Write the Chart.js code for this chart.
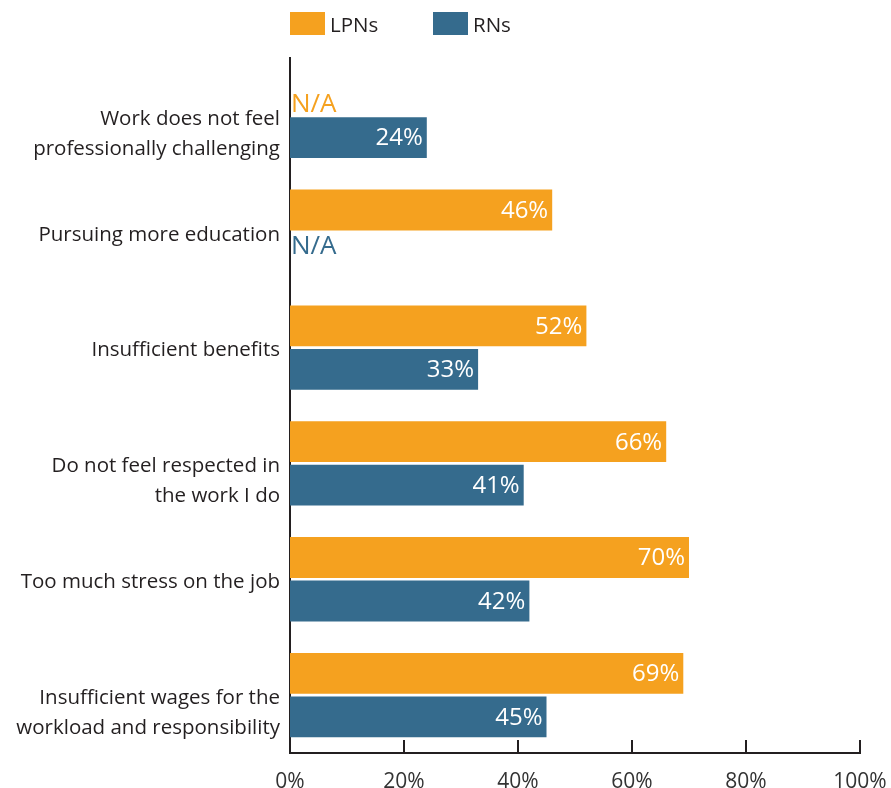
<!DOCTYPE html>
<html>
<head>
<meta charset="utf-8">
<script src="https://cdn.jsdelivr.net/npm/chart.js@4.4.0/dist/chart.umd.min.js"></script>
<style>
  body { margin: 0; background: #fff; }
  #wrap { position: relative; width: 891px; height: 788px; }
  .leg { position: absolute; top: 12px; height: 23px; display: flex; align-items: center;
         font-family: 'Open Sans', sans-serif; font-size: 20.5px; color: #231f20; }
  .leg span.box { display: inline-block; width: 35px; height: 23px; margin-right: 5px; }
</style>
</head>
<body>
<div id="wrap">
  <div class="leg" style="left:290px"><span class="box" style="background:#f5a11f"></span>LPNs</div>
  <div class="leg" style="left:433px"><span class="box" style="background:#356b8d"></span>RNs</div>
  <canvas id="grafico" width="891" height="788"></canvas>
</div>
<script>
// ---- dados ----
const categorias = [
  ['Work does not feel', 'professionally challenging'],
  ['Pursuing more education'],
  ['Insufficient benefits'],
  ['Do not feel respected in', 'the work I do'],
  ['Too much stress on the job'],
  ['Insufficient wages for the', 'workload and responsibility']
];
const lpns = [null, 46, 52, 66, 70, 69];
const rns  = [24, null, 33, 41, 42, 45];
const xTicks = [0, 20, 40, 60, 80, 100];

const corLaranja = '#f5a11f';
const corAzul = '#356b8d';
const corTexto = '#231f20';
const fonte = "'Open Sans', sans-serif";

// rótulos das categorias (primeira linha no centro da faixa)
const rotulosCategorias = {
  id: 'rotulosCategorias',
  afterDraw(chart) {
    const ctx = chart.ctx;
    const y = chart.scales.y;
    ctx.save();
    ctx.font = '20.5px ' + fonte;
    ctx.fillStyle = corTexto;
    ctx.textAlign = 'right';
    ctx.textBaseline = 'middle';
    categorias.forEach((linhas, i) => {
      const cy = y.getPixelForValue(i);
      linhas.forEach((l, j) => ctx.fillText(l, 280, cy + 3 + j * 30));
    });
    ctx.restore();
  }
};

// valores dentro das barras + N/A
const rotulosBarras = {
  id: 'rotulosBarras',
  afterDatasetsDraw(chart) {
    const ctx = chart.ctx;
    const area = chart.chartArea;
    const y = chart.scales.y;
    ctx.save();
    chart.data.datasets.forEach((ds, d) => {
      const meta = chart.getDatasetMeta(d);
      ds.data.forEach((v, i) => {
        const cy = y.getPixelForValue(i);
        if (v === null) {
          ctx.font = '26px ' + fonte;
          ctx.fillStyle = ds.backgroundColor;
          ctx.textAlign = 'left';
          ctx.textBaseline = 'alphabetic';
          if (d === 0) ctx.fillText('N/A', area.left + 1, cy - 4);
          else ctx.fillText('N/A', area.left + 1, cy + 22);
          return;
        }
        const el = meta.data[i];
        ctx.font = '24px ' + fonte;
        ctx.fillStyle = '#ffffff';
        ctx.textAlign = 'right';
        ctx.textBaseline = 'middle';
        ctx.fillText(v + '%', el.x - 4, el.y + 1);
      });
    });
    ctx.restore();
  }
};

// marcas do eixo x para cima
const marcasEixo = {
  id: 'marcasEixo',
  afterDraw(chart) {
    const ctx = chart.ctx;
    const x = chart.scales.x;
    const fundo = chart.chartArea.bottom;
    ctx.save();
    ctx.strokeStyle = corTexto;
    ctx.lineWidth = 2;
    xTicks.slice(1).forEach(t => {
      const px = Math.round(x.getPixelForValue(t));
      ctx.beginPath();
      ctx.moveTo(px, fundo);
      ctx.lineTo(px, fundo - 13);
      ctx.stroke();
    });
    ctx.restore();
  }
};

new Chart(document.getElementById('grafico'), {
  type: 'bar',
  data: {
    labels: categorias.map(c => c.join(' ')),
    datasets: [
      { label: 'LPNs', data: lpns, backgroundColor: corLaranja, categoryPercentage: 0.75, barPercentage: 0.94 },
      { label: 'RNs', data: rns, backgroundColor: corAzul, categoryPercentage: 0.75, barPercentage: 0.94 }
    ]
  },
  options: {
    indexAxis: 'y',
    responsive: false,
    animation: false,
    layout: { padding: { top: 58, right: 31, left: 0, bottom: 0 } },
    plugins: { legend: { display: false }, tooltip: { enabled: false } },
    scales: {
      x: {
        min: 0, max: 100,
        afterFit: s => { s.height = 35; s.paddingRight = 0; s.paddingLeft = 0; },
        afterBuildTicks: s => { s.ticks = xTicks.map(v => ({ value: v })); },
        grid: { display: false },
        border: { display: true, color: corTexto, width: 2 },
        ticks: { callback: v => v + '%', color: '#333', font: { family: fonte, size: 21 }, padding: 8, maxRotation: 0 }
      },
      y: {
        afterFit: s => { s.width = 290; },
        grid: { display: false },
        border: { display: true, color: corTexto, width: 2 },
        ticks: { display: false }
      }
    }
  },
  plugins: [rotulosCategorias, rotulosBarras, marcasEixo]
});
</script>
</body>
</html>
